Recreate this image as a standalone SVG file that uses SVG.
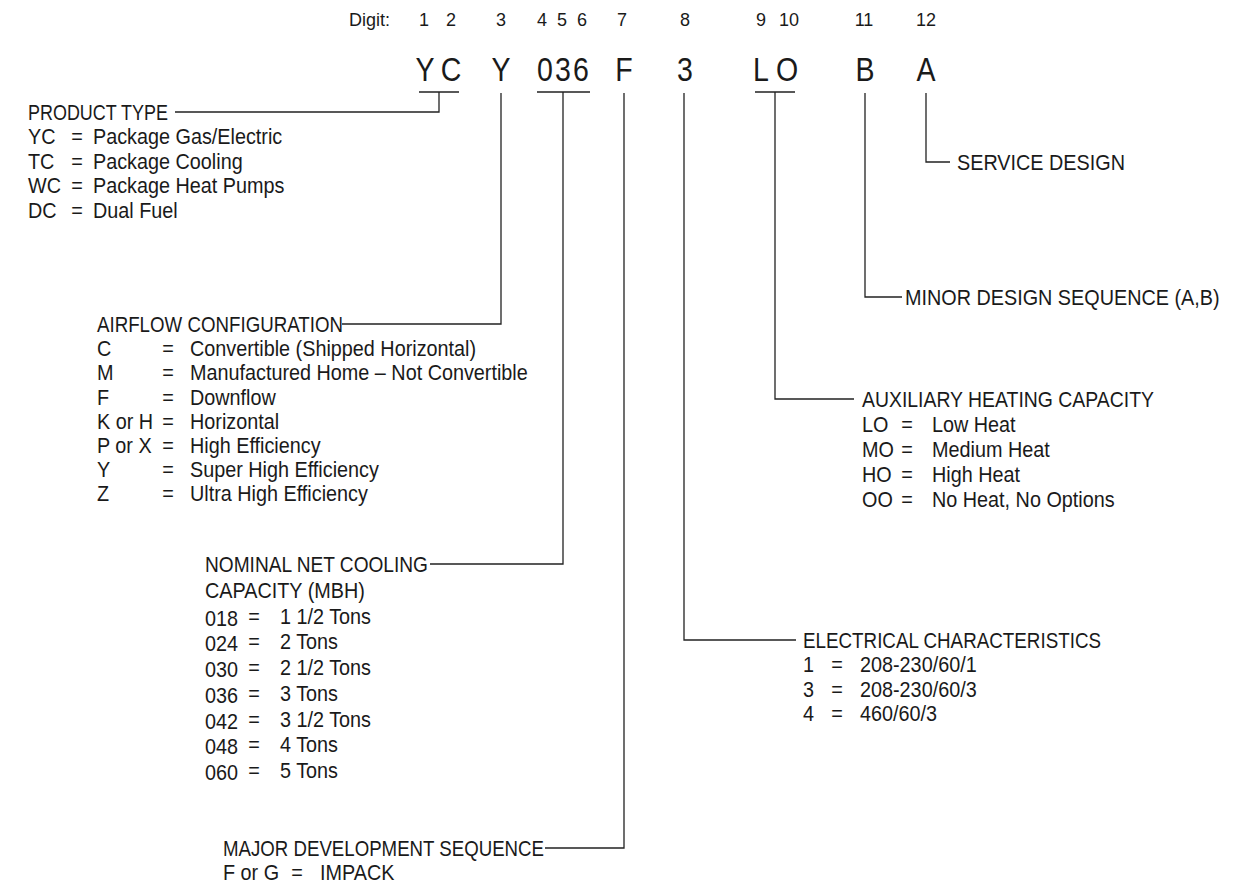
<svg xmlns="http://www.w3.org/2000/svg" width="1250" height="889" viewBox="0 0 1250 889">
<style>
text{font-family:"Liberation Sans",Arial,sans-serif;fill:#1a1a1a}
.t{font-size:22.5px}
.d{font-size:18px;text-anchor:middle}
.big{font-size:34px;text-anchor:middle}
.m{text-anchor:middle}
.ln{fill:none;stroke:#222;stroke-width:1.3}
</style>
<rect width="1250" height="889" fill="#fff"/>
<g id="digits">
<text x="390" y="26" style="font-size:18px;text-anchor:end">Digit:</text>
<text class="d" x="424" y="26">1</text>
<text class="d" x="451" y="26">2</text>
<text class="d" x="501" y="26">3</text>
<text class="d" x="542" y="26">4</text>
<text class="d" x="562" y="26">5</text>
<text class="d" x="582" y="26">6</text>
<text class="d" x="622" y="26">7</text>
<text class="d" x="685" y="26">8</text>
<text class="d" x="761" y="26">9</text>
<text class="d" x="789" y="26">10</text>
<text class="d" x="864" y="26">11</text>
<text class="d" x="926" y="26">12</text>
</g>
<g id="code" transform="scale(0.84 1)">
<text class="big" x="505.95" y="81">Y</text>
<text class="big" x="536.9" y="81">C</text>
<text class="big" x="596.43" y="81">Y</text>
<text class="big" x="648.81" y="81">0</text>
<text class="big" x="670.24" y="81">3</text>
<text class="big" x="691.67" y="81">6</text>
<text class="big" x="742.86" y="81">F</text>
<text class="big" x="815.48" y="81">3</text>
<text class="big" x="905.95" y="81">L</text>
<text class="big" x="936.9" y="81">O</text>
<text class="big" x="1029.76" y="81">B</text>
<text class="big" x="1102.38" y="81">A</text>
</g>
<g id="connectors">
<path class="ln" d="M419 92H459M537 92H590M755 92H795"/>
<path class="ln" d="M439 92V112H175"/>
<path class="ln" d="M501 93V324H342"/>
<path class="ln" d="M563 92V564H430"/>
<path class="ln" d="M624 93V848H545"/>
<path class="ln" d="M684 93V640H796"/>
<path class="ln" d="M775 92V399H854"/>
<path class="ln" d="M865 93V297H902"/>
<path class="ln" d="M926 93V162H950"/>
</g>
<g id="product-type" class="t" transform="scale(0.88 1)">
<text x="31.82" y="120" textLength="159.09" lengthAdjust="spacingAndGlyphs">PRODUCT TYPE</text>
<text x="31.82" y="144.5">YC</text><text class="m" x="87.5" y="144.5">=</text><text x="105.68" y="144.5">Package Gas/Electric</text>
<text x="31.82" y="169">TC</text><text class="m" x="87.5" y="169">=</text><text x="105.68" y="169">Package Cooling</text>
<text x="31.82" y="193.5">WC</text><text class="m" x="87.5" y="193.5">=</text><text x="105.68" y="193.5">Package Heat Pumps</text>
<text x="31.82" y="218">DC</text><text class="m" x="87.5" y="218">=</text><text x="105.68" y="218">Dual Fuel</text>
</g>
<g id="airflow" class="t" transform="scale(0.88 1)">
<text x="110.23" y="332" textLength="279.55" lengthAdjust="spacingAndGlyphs">AIRFLOW CONFIGURATION</text>
<text x="110.23" y="356">C</text><text class="m" x="190.91" y="356">=</text><text x="215.91" y="356">Convertible (Shipped Horizontal)</text>
<text x="110.23" y="380">M</text><text class="m" x="190.91" y="380">=</text><text x="215.91" y="380">Manufactured Home – Not Convertible</text>
<text x="110.23" y="405">F</text><text class="m" x="190.91" y="405">=</text><text x="215.91" y="405">Downflow</text>
<text x="110.23" y="429">K or H</text><text class="m" x="190.91" y="429">=</text><text x="215.91" y="429">Horizontal</text>
<text x="110.23" y="453">P or X</text><text class="m" x="190.91" y="453">=</text><text x="215.91" y="453">High Efficiency</text>
<text x="110.23" y="477">Y</text><text class="m" x="190.91" y="477">=</text><text x="215.91" y="477">Super High Efficiency</text>
<text x="110.23" y="501">Z</text><text class="m" x="190.91" y="501">=</text><text x="215.91" y="501">Ultra High Efficiency</text>
</g>
<g id="cooling" class="t" transform="scale(0.88 1)">
<text x="232.95" y="572" textLength="253.41" lengthAdjust="spacingAndGlyphs">NOMINAL NET COOLING</text>
<text x="232.95" y="598">CAPACITY (MBH)</text>
<text x="232.95" y="626">018</text><text class="m" x="288.64" y="624">=</text><text x="318.18" y="624">1 1/2 Tons</text>
<text x="232.95" y="651">024</text><text class="m" x="288.64" y="649">=</text><text x="318.18" y="649">2 Tons</text>
<text x="232.95" y="677">030</text><text class="m" x="288.64" y="675">=</text><text x="318.18" y="675">2 1/2 Tons</text>
<text x="232.95" y="703">036</text><text class="m" x="288.64" y="701">=</text><text x="318.18" y="701">3 Tons</text>
<text x="232.95" y="729">042</text><text class="m" x="288.64" y="727">=</text><text x="318.18" y="727">3 1/2 Tons</text>
<text x="232.95" y="754">048</text><text class="m" x="288.64" y="752">=</text><text x="318.18" y="752">4 Tons</text>
<text x="232.95" y="780">060</text><text class="m" x="288.64" y="778">=</text><text x="318.18" y="778">5 Tons</text>
</g>
<g id="major" class="t" transform="scale(0.88 1)">
<text x="253.41" y="856" textLength="364.77" lengthAdjust="spacingAndGlyphs">MAJOR DEVELOPMENT SEQUENCE</text>
<text x="253.41" y="880">F or G</text><text class="m" x="337.5" y="880">=</text><text x="363.64" y="880">IMPACK</text>
</g>
<g id="electrical" class="t" transform="scale(0.88 1)">
<text x="912.5" y="648" textLength="338.64" lengthAdjust="spacingAndGlyphs">ELECTRICAL CHARACTERISTICS</text>
<text x="912.5" y="672">1</text><text class="m" x="951.14" y="672">=</text><text x="977.27" y="672">208-230/60/1</text>
<text x="912.5" y="697">3</text><text class="m" x="951.14" y="697">=</text><text x="977.27" y="697">208-230/60/3</text>
<text x="912.5" y="721">4</text><text class="m" x="951.14" y="721">=</text><text x="977.27" y="721">460/60/3</text>
</g>
<g id="auxiliary" class="t" transform="scale(0.88 1)">
<text x="979.55" y="407" textLength="331.82" lengthAdjust="spacingAndGlyphs">AUXILIARY HEATING CAPACITY</text>
<text x="979.55" y="432">LO</text><text class="m" x="1030.68" y="432">=</text><text x="1059.09" y="432">Low Heat</text>
<text x="979.55" y="457">MO</text><text class="m" x="1030.68" y="457">=</text><text x="1059.09" y="457">Medium Heat</text>
<text x="979.55" y="482">HO</text><text class="m" x="1030.68" y="482">=</text><text x="1059.09" y="482">High Heat</text>
<text x="979.55" y="507">OO</text><text class="m" x="1030.68" y="507">=</text><text x="1059.09" y="507">No Heat, No Options</text>
</g>
<g id="minor" class="t" transform="scale(0.88 1)">
<text x="1028.41" y="305">MINOR DESIGN SEQUENCE (A,B)</text>
</g>
<g id="service" class="t" transform="scale(0.88 1)">
<text x="1087.5" y="170">SERVICE DESIGN</text>
</g>
</svg>
